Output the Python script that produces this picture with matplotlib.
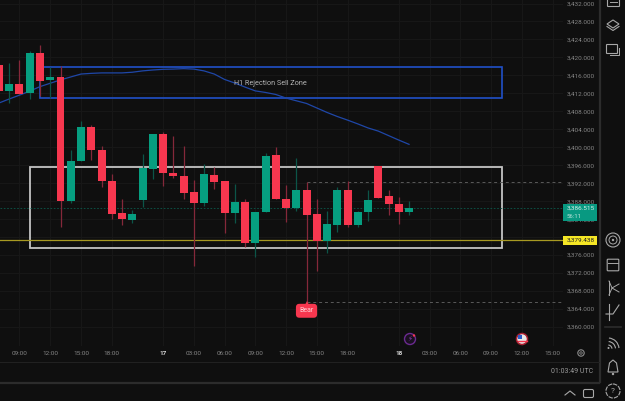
import matplotlib
matplotlib.use("Agg")
import matplotlib.pyplot as plt
from matplotlib.patches import Arc, Rectangle, Circle, Polygon, FancyBboxPatch

plt.rcParams["font.family"] = ["Roboto", "DejaVu Sans"]

# свечи: индекс бара, open, high, low, close
bar_idx = list(range(-2, 39))
opens = [3418.2, 3412.6, 3414.0, 3412.0, 3421.05, 3415.0, 3415.6, 3388.1, 3396.95, 3404.5,
         3399.4, 3392.6, 3385.35, 3383.8, 3388.25, 3395.2, 3402.9, 3394.3, 3393.6, 3390.0,
         3387.5, 3393.9, 3392.5, 3385.3, 3387.75, 3378.75, 3385.5, 3398.2, 3388.55, 3386.55,
         3390.55, 3385.15, 3379.2, 3382.75, 3390.4, 3382.6, 3385.65, 3395.8, 3389.1, 3387.35,
         3385.65]
highs = [3419.0, 3418.7, 3419.4, 3421.5, 3422.8, 3417.8, 3418.1, 3399.5, 3405.85, 3405.0,
         3400.3, 3394.05, 3388.4, 3386.0, 3398.5, 3402.9, 3403.4, 3402.5, 3400.3, 3392.7,
         3396.3, 3395.5, 3392.5, 3391.8, 3388.5, 3385.6, 3398.65, 3400.1, 3391.6, 3397.5,
         3392.2, 3388.4, 3385.8, 3391.2, 3392.5, 3385.8, 3390.4, 3395.8, 3390.5, 3388.85,
         3388.05]
lows = [3412.5, 3409.8, 3411.85, 3410.7, 3411.4, 3410.9, 3382.3, 3387.5, 3396.95, 3397.15,
        3391.1, 3384.0, 3382.6, 3383.2, 3386.75, 3392.9, 3391.4, 3393.2, 3388.5, 3373.55,
        3387.0, 3390.6, 3381.0, 3383.2, 3377.7, 3375.65, 3385.5, 3388.5, 3383.4, 3385.9,
        3365.6, 3372.45, 3376.5, 3381.2, 3382.3, 3382.3, 3383.65, 3388.7, 3385.0, 3382.9,
        3385.0]
closes = [3412.5, 3414.0, 3411.85, 3421.05, 3414.8, 3415.6, 3388.1, 3396.95, 3404.5, 3399.3,
          3392.6, 3385.15, 3383.95, 3385.15, 3395.45, 3402.9, 3394.2, 3393.6, 3389.9, 3387.5,
          3394.05, 3392.3, 3385.3, 3387.75, 3378.75, 3385.6, 3398.05, 3388.5, 3386.55, 3390.55,
          3384.9, 3379.1, 3382.85, 3390.4, 3382.6, 3385.65, 3388.3, 3388.7, 3387.3, 3385.65,
          3386.4]

# скользящая средняя
ma_values = [3409.85, 3410.75, 3411.6, 3412.5, 3413.5, 3414.25, 3415.0, 3415.65, 3416.3, 3416.45,
             3416.55, 3416.55, 3416.55, 3416.7, 3417.0, 3417.2, 3417.35, 3417.4, 3417.5, 3417.4,
             3417.0, 3416.3, 3415.1, 3414.3, 3413.4, 3412.55, 3412.2, 3411.75, 3410.95, 3410.35,
             3409.75, 3408.75, 3407.75, 3406.85, 3406.05, 3405.2, 3404.3, 3403.6, 3402.6, 3401.6,
             3400.65]

price_ticks = list(range(3360, 3436, 4))
time_pos = [0, 3, 6, 9, 14, 17, 20, 23, 26, 29, 32, 37, 40, 43, 46, 49, 52]
time_labels = ["09:00", "12:00", "15:00", "18:00", "17", "03:00", "06:00", "09:00", "12:00",
               "15:00", "18:00", "18", "03:00", "06:00", "09:00", "12:00", "15:00"]

sell_zone = (2, 47.1, 3410.9, 3417.85)
box_zone = (1, 47.1, 3377.65, 3395.6)
last_price = 3386.515
yellow_level = 3379.438
swing_high = 3392.2
swing_low = 3365.6

BG = "#0f0f0f"
RED = "#f7374f"
GREEN = "#069e80"
ICON = "#a8a8a8"

fig = plt.figure(figsize=(6.25, 4.01), dpi=100, facecolor=BG)
ax = fig.add_axes([0, 1 - 346 / 401, 563 / 625, 346 / 401], facecolor=BG)
ax.set_xlim(-1.902, 53.02)
ax.set_ylim(3355.76, 3432.78)
for s in ax.spines.values():
    s.set_visible(False)

# подпись 3,380 в оригинале целиком закрыта жёлтой плашкой
ax.yaxis.tick_right()
ax.set_yticks(price_ticks, ["" if p == 3380 else f"{p:,.3f}" for p in price_ticks])
ax.set_xticks(time_pos, time_labels)
ax.tick_params(axis="both", length=0, labelsize=4.6, labelcolor="#858585")
ax.tick_params(axis="y", pad=3)
ax.tick_params(axis="x", pad=3.5)
for lab in ax.get_xticklabels():
    if lab.get_text() in ("17", "18"):
        lab.set_color("#d8d8d8")
        lab.set_fontweight("bold")
ax.grid(color="#181818", lw=0.7)
ax.set_axisbelow(True)

# зоны
ax.add_patch(Rectangle((sell_zone[0], sell_zone[2]), sell_zone[1] - sell_zone[0],
                       sell_zone[3] - sell_zone[2], fill=False, ec="#2050c8", lw=1.2, zorder=2))
ax.add_patch(Rectangle((box_zone[0], box_zone[2]), box_zone[1] - box_zone[0],
                       box_zone[3] - box_zone[2], fill=False, ec="#c4c4c4", lw=1.3, zorder=2))
ax.text(24.5, 3414.1, "H1 Rejection Sell Zone", color="#b4b4b4", fontsize=5.2,
        ha="center", va="center", zorder=6)

ax.axhline(yellow_level, color="#a89a22", lw=0.9, zorder=2)
ax.axhline(last_price, color="#0b5a4b", lw=0.6, ls=(0, (2, 2)), zorder=2)
ax.hlines([swing_high, swing_low], 28, 53.02, color="#5a5a5a", lw=0.7, ls=(0, (3, 3)), zorder=2)
ax.plot(bar_idx, ma_values, color="#1f47a8", lw=0.9, zorder=3)

# свечи
body_colors = [GREEN if c >= o else RED for o, c in zip(opens, closes)]
wick_colors = ["#0c5548" if c >= o else "#85283a" for o, c in zip(opens, closes)]
ax.vlines(bar_idx, lows, highs, colors=wick_colors, lw=0.9, zorder=4)
bottoms = [min(o, c) for o, c in zip(opens, closes)]
heights = [abs(c - o) for o, c in zip(opens, closes)]
ax.bar(bar_idx, heights, bottom=bottoms, width=0.78, color=body_colors, lw=0, zorder=5)

# метка Bear
ax.text(28, swing_low - 2.0, "Bear", color="#ffd0d6", fontsize=5, ha="center", va="center",
        zorder=8, bbox=dict(boxstyle="round,pad=0.5", fc=RED, ec="none"))
ax.plot([28], [swing_low - 0.5], marker="^", ms=4.5, color=RED, mew=0, zorder=8, clip_on=False)

# интерфейс поверх графика, в пикселях
ui = fig.add_axes([0, 0, 1, 1], zorder=10)
ui.set_xlim(0, 625)
ui.set_ylim(401, 0)
ui.axis("off")
ui.patch.set_alpha(0)

ui.plot([599.5, 599.5], [0, 382], color="#2c2c2c", lw=1.6)
ui.plot([0, 599], [361.5, 361.5], color="#222222", lw=0.7)
ui.plot([0, 599], [382.5, 382.5], color="#2c2c2c", lw=1.6)
ui.text(593, 371.5, "01:03:49 UTC", color="#9a9a9a", fontsize=5, ha="right", va="center")

ui.add_patch(Rectangle((563, 204), 33.5, 16.5, fc="#089981", ec="none"))
ui.text(567, 208.5, "3,386.515", color="#d8efe9", fontsize=4.6, va="center")
ui.text(567, 216, "56:11", color="#c0e4dc", fontsize=4.3, va="center")
ui.add_patch(Rectangle((563, 235.5), 33.5, 9, fc="#f5e625", ec="none"))
ui.text(567, 240.2, "3,379.438", color="#222222", fontsize=4.6, va="center")

# значки событий
ui.add_patch(Circle((410, 339), 5.5, fc="#1a1020", ec="#6a2a90", lw=1))
ui.text(410, 339, "⚡", color="#8a3cb0", fontsize=5, ha="center", va="center", family="DejaVu Sans")
ui.add_patch(Circle((414, 335.5), 1.2, fc=RED, ec="none"))
ui.add_patch(Circle((522, 339), 5.5, fc="#e8e8e8", ec="#a82030", lw=1.1))
ui.add_patch(Rectangle((517.5, 335), 4.5, 3.5, fc="#2a5cc8", ec="none"))
ui.plot([518, 527], [341, 341], color=RED, lw=1)

# шестерёнка
ui.add_patch(Circle((581, 353), 3.2, fill=False, ec="#8a8a8a", lw=0.8))
ui.add_patch(Circle((581, 353), 1.2, fill=False, ec="#8a8a8a", lw=0.6))

# правая панель
ui.add_patch(FancyBboxPatch((608, -4), 11, 10, boxstyle="round,pad=0.5", fill=False, ec=ICON, lw=0.8))
ui.plot([610, 617], [2, 2], color=ICON, lw=0.7)
ui.add_patch(Polygon([[607, 24], [613, 20], [619, 24], [613, 28]], fill=False, ec=ICON, lw=0.8))
ui.plot([607, 613, 619], [26.5, 30.5, 26.5], color=ICON, lw=0.8)
ui.add_patch(FancyBboxPatch((607, 45), 10, 8, boxstyle="round,pad=0.5", fill=False, ec=ICON, lw=0.8))
ui.plot([610, 619, 619], [55, 55, 48], color=ICON, lw=0.7)
ui.add_patch(Circle((613, 240), 7, fill=False, ec=ICON, lw=0.8))
ui.add_patch(Circle((613, 240), 4, fill=False, ec=ICON, lw=0.7))
ui.add_patch(Circle((613, 240), 1.2, fc=ICON, ec="none"))
ui.add_patch(FancyBboxPatch((608, 260), 10, 10, boxstyle="round,pad=0.8", fill=False, ec=ICON, lw=0.8))
ui.plot([608, 618], [263, 263], color=ICON, lw=0.7)
ui.plot([609, 612, 619], [281, 288, 284], color=ICON, lw=0.7)
ui.plot([609, 612, 619], [295, 288, 292], color=ICON, lw=0.7)
ui.plot([609, 609], [281, 295], color=ICON, lw=0.7)
ui.plot([609, 609], [304, 320], color=ICON, lw=0.8)
ui.plot([606, 613, 619], [314, 314, 305], color=ICON, lw=0.8)
ui.plot([605, 621], [327, 327], color="#2c2c2c", lw=1.2)
ui.add_patch(Circle((608.5, 348), 1, fc=ICON, ec="none"))
for r in (4, 7.5, 11):
    ui.add_patch(Arc((608, 349), 2 * r, 2 * r, theta1=275, theta2=355, ec=ICON, lw=0.8))
ui.add_patch(Polygon([[608, 372], [609.5, 363], [613, 360], [616.5, 363], [618, 372]], fill=False, ec=ICON, lw=0.8))
ui.add_patch(Circle((613, 374), 1.2, fc=ICON, ec="none"))
ui.add_patch(Circle((613, 391), 7, fill=False, ec=ICON, lw=0.8, ls=(0, (4, 1))))
ui.text(613, 391, "?", color=ICON, fontsize=6, ha="center", va="center")

# кнопки внизу
ui.plot([565, 570, 575], [395, 391, 395], color=ICON, lw=0.8)
ui.add_patch(FancyBboxPatch((585, 391), 7, 5, boxstyle="round,pad=1.5", fill=False, ec=ICON, lw=0.8))

fig.savefig("out.png", dpi=100, facecolor=BG)
